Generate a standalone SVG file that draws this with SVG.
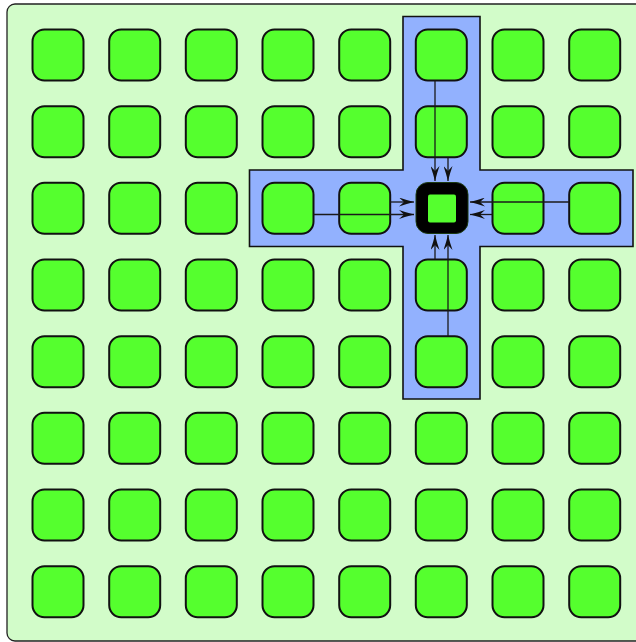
<svg xmlns="http://www.w3.org/2000/svg" width="636" height="642" viewBox="0 0 636 642">
<defs>
<style>
.n{fill:#55ff2e;stroke:#111;stroke-width:2}
.c{fill:none;stroke:#1a1a1a;stroke-width:1.3}
</style>
<marker id="ah" viewBox="0 0 15 9" refX="15" refY="4.5" markerWidth="15" markerHeight="9" markerUnits="userSpaceOnUse" orient="auto">
<path d="M0,0 Q7,2.5 15,4.5 Q7,6.5 0,9 L5,4.5 Z" fill="#111"/>
</marker>
</defs>
<rect x="7" y="4" width="640" height="637" rx="8" fill="#d2fcc9" stroke="#222" stroke-width="1.3"/>
<path d="M403,16.5 H480 V170 H633 V246.5 H480 V399 H403 V246.5 H249.5 V170 H403 Z" fill="#92b1fe" stroke="#111" stroke-width="1.6"/>
<g id="nodes">
<g id="n00"><rect class="n" x="32.5" y="29.5" width="51" height="51" rx="12"/></g>
<g id="n01"><rect class="n" x="109.2" y="29.5" width="51" height="51" rx="12"/></g>
<g id="n02"><rect class="n" x="185.8" y="29.5" width="51" height="51" rx="12"/></g>
<g id="n03"><rect class="n" x="262.5" y="29.5" width="51" height="51" rx="12"/></g>
<g id="n04"><rect class="n" x="339.2" y="29.5" width="51" height="51" rx="12"/></g>
<g id="n05"><rect class="n" x="415.8" y="29.5" width="51" height="51" rx="12"/></g>
<g id="n06"><rect class="n" x="492.5" y="29.5" width="51" height="51" rx="12"/></g>
<g id="n07"><rect class="n" x="569.2" y="29.5" width="51" height="51" rx="12"/></g>
<g id="n10"><rect class="n" x="32.5" y="106.2" width="51" height="51" rx="12"/></g>
<g id="n11"><rect class="n" x="109.2" y="106.2" width="51" height="51" rx="12"/></g>
<g id="n12"><rect class="n" x="185.8" y="106.2" width="51" height="51" rx="12"/></g>
<g id="n13"><rect class="n" x="262.5" y="106.2" width="51" height="51" rx="12"/></g>
<g id="n14"><rect class="n" x="339.2" y="106.2" width="51" height="51" rx="12"/></g>
<g id="n15"><rect class="n" x="415.8" y="106.2" width="51" height="51" rx="12"/></g>
<g id="n16"><rect class="n" x="492.5" y="106.2" width="51" height="51" rx="12"/></g>
<g id="n17"><rect class="n" x="569.2" y="106.2" width="51" height="51" rx="12"/></g>
<g id="n20"><rect class="n" x="32.5" y="182.8" width="51" height="51" rx="12"/></g>
<g id="n21"><rect class="n" x="109.2" y="182.8" width="51" height="51" rx="12"/></g>
<g id="n22"><rect class="n" x="185.8" y="182.8" width="51" height="51" rx="12"/></g>
<g id="n23"><rect class="n" x="262.5" y="182.8" width="51" height="51" rx="12"/></g>
<g id="n24"><rect class="n" x="339.2" y="182.8" width="51" height="51" rx="12"/></g>
<g id="n25"><rect x="416" y="182.5" width="52" height="51" rx="12" fill="#000" stroke="#1c3a10" stroke-width="1"/><rect x="428" y="194.5" width="28" height="28" rx="2" fill="#55ff2e"/></g>
<g id="n26"><rect class="n" x="492.5" y="182.8" width="51" height="51" rx="12"/></g>
<g id="n27"><rect class="n" x="569.2" y="182.8" width="51" height="51" rx="12"/></g>
<g id="n30"><rect class="n" x="32.5" y="259.5" width="51" height="51" rx="12"/></g>
<g id="n31"><rect class="n" x="109.2" y="259.5" width="51" height="51" rx="12"/></g>
<g id="n32"><rect class="n" x="185.8" y="259.5" width="51" height="51" rx="12"/></g>
<g id="n33"><rect class="n" x="262.5" y="259.5" width="51" height="51" rx="12"/></g>
<g id="n34"><rect class="n" x="339.2" y="259.5" width="51" height="51" rx="12"/></g>
<g id="n35"><rect class="n" x="415.8" y="259.5" width="51" height="51" rx="12"/></g>
<g id="n36"><rect class="n" x="492.5" y="259.5" width="51" height="51" rx="12"/></g>
<g id="n37"><rect class="n" x="569.2" y="259.5" width="51" height="51" rx="12"/></g>
<g id="n40"><rect class="n" x="32.5" y="336.2" width="51" height="51" rx="12"/></g>
<g id="n41"><rect class="n" x="109.2" y="336.2" width="51" height="51" rx="12"/></g>
<g id="n42"><rect class="n" x="185.8" y="336.2" width="51" height="51" rx="12"/></g>
<g id="n43"><rect class="n" x="262.5" y="336.2" width="51" height="51" rx="12"/></g>
<g id="n44"><rect class="n" x="339.2" y="336.2" width="51" height="51" rx="12"/></g>
<g id="n45"><rect class="n" x="415.8" y="336.2" width="51" height="51" rx="12"/></g>
<g id="n46"><rect class="n" x="492.5" y="336.2" width="51" height="51" rx="12"/></g>
<g id="n47"><rect class="n" x="569.2" y="336.2" width="51" height="51" rx="12"/></g>
<g id="n50"><rect class="n" x="32.5" y="412.8" width="51" height="51" rx="12"/></g>
<g id="n51"><rect class="n" x="109.2" y="412.8" width="51" height="51" rx="12"/></g>
<g id="n52"><rect class="n" x="185.8" y="412.8" width="51" height="51" rx="12"/></g>
<g id="n53"><rect class="n" x="262.5" y="412.8" width="51" height="51" rx="12"/></g>
<g id="n54"><rect class="n" x="339.2" y="412.8" width="51" height="51" rx="12"/></g>
<g id="n55"><rect class="n" x="415.8" y="412.8" width="51" height="51" rx="12"/></g>
<g id="n56"><rect class="n" x="492.5" y="412.8" width="51" height="51" rx="12"/></g>
<g id="n57"><rect class="n" x="569.2" y="412.8" width="51" height="51" rx="12"/></g>
<g id="n60"><rect class="n" x="32.5" y="489.5" width="51" height="51" rx="12"/></g>
<g id="n61"><rect class="n" x="109.2" y="489.5" width="51" height="51" rx="12"/></g>
<g id="n62"><rect class="n" x="185.8" y="489.5" width="51" height="51" rx="12"/></g>
<g id="n63"><rect class="n" x="262.5" y="489.5" width="51" height="51" rx="12"/></g>
<g id="n64"><rect class="n" x="339.2" y="489.5" width="51" height="51" rx="12"/></g>
<g id="n65"><rect class="n" x="415.8" y="489.5" width="51" height="51" rx="12"/></g>
<g id="n66"><rect class="n" x="492.5" y="489.5" width="51" height="51" rx="12"/></g>
<g id="n67"><rect class="n" x="569.2" y="489.5" width="51" height="51" rx="12"/></g>
<g id="n70"><rect class="n" x="32.5" y="566.2" width="51" height="51" rx="12"/></g>
<g id="n71"><rect class="n" x="109.2" y="566.2" width="51" height="51" rx="12"/></g>
<g id="n72"><rect class="n" x="185.8" y="566.2" width="51" height="51" rx="12"/></g>
<g id="n73"><rect class="n" x="262.5" y="566.2" width="51" height="51" rx="12"/></g>
<g id="n74"><rect class="n" x="339.2" y="566.2" width="51" height="51" rx="12"/></g>
<g id="n75"><rect class="n" x="415.8" y="566.2" width="51" height="51" rx="12"/></g>
<g id="n76"><rect class="n" x="492.5" y="566.2" width="51" height="51" rx="12"/></g>
<g id="n77"><rect class="n" x="569.2" y="566.2" width="51" height="51" rx="12"/></g>
</g>
<g id="connectors">
<line class="c" x1="435" y1="80.5" x2="435" y2="181" marker-end="url(#ah)"/>
<line class="c" x1="448" y1="157.2" x2="448" y2="181" marker-end="url(#ah)"/>
<line class="c" x1="435" y1="259.5" x2="435" y2="235" marker-end="url(#ah)"/>
<line class="c" x1="448" y1="336.2" x2="448" y2="235" marker-end="url(#ah)"/>
<line class="c" x1="390.2" y1="202" x2="414" y2="202" marker-end="url(#ah)"/>
<line class="c" x1="313.5" y1="214.5" x2="414" y2="214.5" marker-end="url(#ah)"/>
<line class="c" x1="569.2" y1="202" x2="470" y2="202" marker-end="url(#ah)"/>
<line class="c" x1="492.5" y1="214.5" x2="470" y2="214.5" marker-end="url(#ah)"/>
</g>
</svg>
